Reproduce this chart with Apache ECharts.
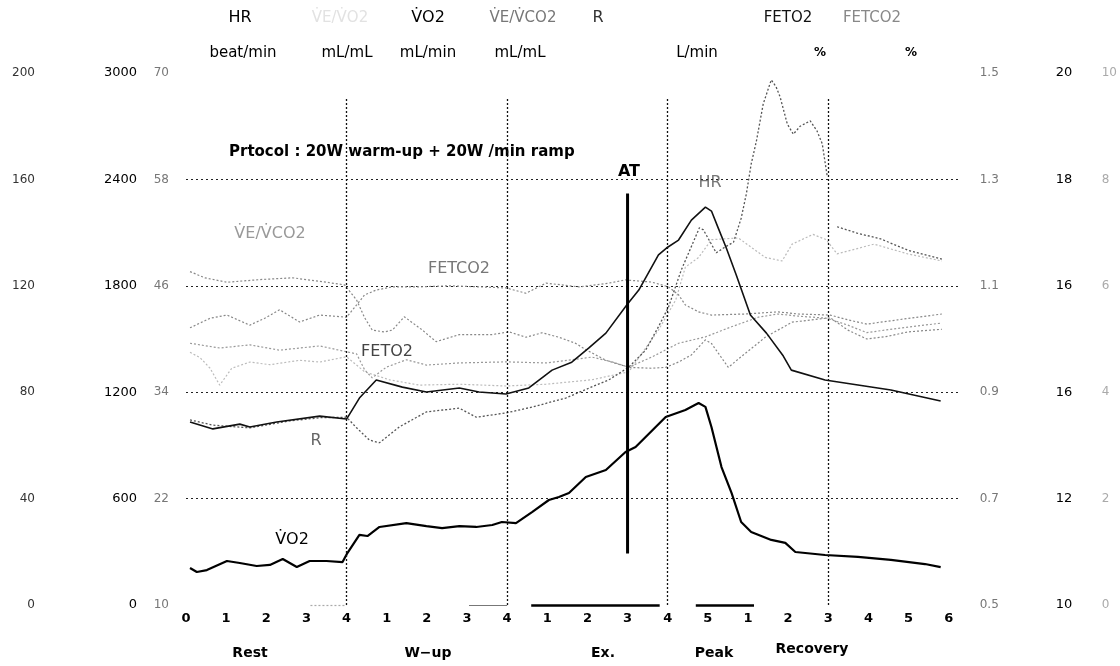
<!DOCTYPE html>
<html>
<head>
<meta charset="utf-8">
<script src="https://cdn.jsdelivr.net/npm/echarts@6.0.0/dist/echarts.min.js"></script>
<style>
  html, body { margin: 0; padding: 0; background: #fff; }
  #chart { width: 1120px; height: 666px; }
</style>
</head>
<body>
<div id="chart"></div>
<script>
// x axis: minutes, restarting in each phase
const xTickLabels = ['0','1','2','3','4','1','2','3','4','1','2','3','4','5','1','2','3','4','5','6'];
const phaseBounds = [4, 8, 12, 16];
const avgWindows = [[3.1, 4.0], [7.05, 8.0], [8.6, 11.8], [12.7, 14.15]];
const atTime = 11.0;

// tick labels of the six y scales (as printed)
const hrTicks = ['0', '40', '80', '120', '160', '200'];
const vo2Ticks = ['0', '600', '1200', '1800', '2400', '3000'];
const ratioTicks = [10, 22, 34, 46, 58, 70];
const rTicks = [0.5, 0.7, 0.9, 1.1, 1.3, 1.5];
const feto2Ticks = ['10', '12', '16', '16', '18', '20'];
const fetco2Ticks = ['0', '2', '4', '6', '8', '10'];

// series [min, value]
const vo2Data = [[0.10,209],[0.27,186],[0.52,197],[1.02,248],[1.34,237],[1.76,220],[2.09,226],[2.41,259],[2.76,214],[3.08,248],[3.50,248],[3.90,242],[4.02,293],[4.32,395],[4.52,389],[4.82,440],[5.49,462],[5.99,445],[6.38,434],[6.81,445],[7.23,440],[7.63,451],[7.87,468],[8.22,462],[8.62,524],[9.04,592],[9.29,609],[9.54,632],[9.96,722],[10.46,761],[10.95,863],[11.20,891],[11.95,1060],[12.44,1100],[12.77,1139],[12.94,1117],[13.09,1004],[13.34,778],[13.59,632],[13.83,468],[14.08,412],[14.58,367],[14.93,350],[15.18,299],[15.92,282],[16.74,271],[17.56,254],[18.41,231],[18.80,214]];

const hrData = [[0.10,68.8],[0.67,66.2],[1.34,68.0],[1.59,66.9],[2.26,68.8],[3.33,71.0],[4.00,69.9],[4.32,77.8],[4.74,84.6],[5.39,81.9],[5.99,80.1],[6.81,81.6],[7.30,80.1],[7.97,79.3],[8.54,81.6],[9.12,88.3],[9.61,91.3],[10.03,96.6],[10.46,102.2],[10.98,112.8],[11.28,118.4],[11.77,131.6],[11.97,134.2],[12.27,137.2],[12.59,144.7],[12.94,149.6],[13.09,148.1],[13.26,141.7],[13.46,134.2],[13.71,124.0],[14.06,109.0],[14.46,102.2],[14.88,93.6],[15.08,88.3],[15.92,84.6],[16.74,82.7],[17.56,80.8],[18.80,76.7]];

const veVco2Data = [[0.10,47.6],[0.47,46.9],[1.02,46.4],[1.84,46.7],[2.66,46.9],[3.50,46.4],[3.95,46.1],[4.25,44.4],[4.45,42.4],[4.64,41.0],[4.94,40.8],[5.14,41.0],[5.44,42.5],[5.89,41.0],[6.23,39.7],[6.81,40.5],[7.63,40.5],[8.05,40.8],[8.47,40.2],[8.87,40.7],[9.29,40.2],[9.71,39.5],[9.96,38.8],[10.46,37.6],[11.03,36.8],[11.60,36.7],[11.95,36.8],[12.27,37.4],[12.59,38.2],[12.94,39.9],[13.09,39.5],[13.51,36.8],[13.83,38.0],[14.43,40.2],[15.10,41.9],[16.05,42.4],[16.49,41.0],[16.96,40.0],[17.48,40.3],[17.98,40.8],[18.83,41.1]];

const veVo2Data = [[0.10,38.5],[0.35,37.9],[0.60,36.7],[0.84,34.8],[1.14,36.7],[1.59,37.4],[2.09,37.1],[2.83,37.6],[3.33,37.4],[4.00,38.0],[4.45,36.3],[5.07,35.4],[5.81,34.8],[6.81,34.9],[7.97,34.7],[8.97,34.9],[10.11,35.4],[11.03,36.3],[11.77,41.0],[12.20,44.4],[12.44,48.1],[12.77,49.2],[13.09,51.2],[13.76,51.4],[14.43,49.2],[14.85,48.8],[15.10,50.7],[15.62,51.8],[15.95,51.2],[16.22,49.6],[17.14,50.7],[17.98,49.6],[18.83,48.8]];

const rData = [[0.10,0.848],[0.67,0.838],[1.59,0.833],[2.58,0.846],[3.33,0.852],[4.00,0.853],[4.25,0.833],[4.57,0.810],[4.82,0.805],[5.32,0.835],[5.99,0.863],[6.81,0.870],[7.23,0.853],[7.97,0.861],[8.62,0.872],[9.46,0.889],[10.11,0.910],[10.53,0.923],[11.03,0.947],[11.45,0.979],[11.77,1.023],[12.02,1.060],[12.34,1.130],[12.79,1.209],[12.89,1.205],[13.21,1.162],[13.39,1.171],[13.64,1.182],[13.83,1.227],[13.96,1.273],[14.08,1.329],[14.21,1.372],[14.38,1.442],[14.58,1.487],[14.70,1.474],[14.80,1.455],[14.98,1.404],[15.13,1.385],[15.30,1.400],[15.55,1.410],[15.72,1.391],[15.85,1.367],[15.97,1.308],[16.10,'-'],[16.22,1.211],[16.72,1.199],[17.31,1.188],[17.98,1.167],[18.83,1.150]];

const feto2Data = [[0.10,14.92],[0.84,14.83],[1.59,14.89],[2.33,14.79],[3.33,14.87],[4.00,14.76],[4.25,14.72],[4.45,14.42],[4.64,14.27],[4.99,14.47],[5.49,14.61],[5.99,14.51],[6.81,14.55],[7.97,14.57],[8.97,14.55],[9.61,14.61],[10.11,14.66],[10.61,14.57],[11.03,14.47],[11.60,14.66],[12.27,14.92],[12.94,15.04],[13.59,15.23],[14.26,15.41],[14.75,15.47],[15.25,15.43],[15.97,15.39],[16.49,15.26],[16.96,15.12],[17.73,15.20],[18.83,15.30]];

const fetco2Data = [[0.10,5.21],[0.60,5.39],[1.02,5.45],[1.59,5.26],[1.96,5.39],[2.33,5.55],[2.83,5.32],[3.33,5.45],[4.00,5.41],[4.25,5.64],[4.45,5.83],[4.74,5.92],[5.14,5.98],[5.81,5.98],[6.56,6.00],[7.30,5.98],[7.97,5.96],[8.47,5.86],[8.97,6.05],[9.79,5.98],[10.53,6.05],[10.95,6.11],[11.28,6.09],[11.60,6.07],[12.02,5.98],[12.27,5.83],[12.44,5.64],[12.77,5.51],[13.09,5.45],[13.93,5.47],[14.75,5.51],[15.25,5.47],[16.05,5.45],[16.49,5.36],[16.96,5.28],[17.73,5.36],[18.83,5.47]];

const chart = echarts.init(document.getElementById('chart'), null, { renderer: 'canvas' });
const FONT = '"DejaVu Sans", Verdana, sans-serif';

function yAx(opt) {
  return Object.assign({
    type: 'value',
    axisLine: { show: false },
    axisTick: { show: false },
    splitLine: { show: false }
  }, opt);
}

const dotLine = { color: '#111', width: 1.3, type: [2, 2] };
const markData = [];
phaseBounds.forEach(t => {
  markData.push([{ coord: [t, 0], lineStyle: dotLine }, { coord: [t, 2860] }]);
});
const winStyles = [
  { color: '#aaa', width: 1.2, type: [2, 2] },
  { color: '#777', width: 1.2, type: 'solid' },
  { color: '#000', width: 2.5, type: 'solid' },
  { color: '#000', width: 2.5, type: 'solid' }
];
avgWindows.forEach((w, i) => {
  markData.push([{ coord: [w[0], 0], lineStyle: winStyles[i] }, { coord: [w[1], 0] }]);
});

function txt(x, y, s, o) {
  return {
    type: 'text', x: x, y: y, silent: true,
    style: Object.assign({ text: s, font: '15px ' + FONT, fill: '#000', align: 'center', verticalAlign: 'middle' }, o || {})
  };
}

const option = {
  backgroundColor: '#fff',
  animation: false,
  grid: { left: 186, top: 73, width: 777, height: 532 },
  xAxis: {
    type: 'value', min: 0, max: 19.3, interval: 1,
    axisLine: { show: false }, axisTick: { show: false }, splitLine: { show: false },
    axisLabel: {
      margin: 7, fontSize: 13, fontWeight: 'bold', color: '#000', fontFamily: FONT,
      showMaxLabel: false,
      formatter: v => (Number.isInteger(v) && xTickLabels[v] !== undefined) ? xTickLabels[v] : ''
    }
  },
  yAxis: [
    yAx({ min: 0, max: 200, interval: 40, position: 'left',
      splitLine: { show: true, showMinLine: false, showMaxLine: false, lineStyle: { color: '#222', width: 1, type: [2, 3] } },
      axisLabel: { margin: 151, fontSize: 12, color: '#333', fontFamily: FONT,
        formatter: (v) => hrTicks[Math.round(v / 40)] } }),
    yAx({ min: 0, max: 3000, interval: 600, position: 'left',
      axisLabel: { margin: 49, fontSize: 13, color: '#000', fontFamily: FONT,
        formatter: (v) => vo2Ticks[Math.round(v / 600)] } }),
    yAx({ min: 10, max: 70, position: 'left',
      axisLabel: { margin: 17, fontSize: 12, color: '#777', fontFamily: FONT, customValues: ratioTicks } }),
    yAx({ min: 0.5, max: 1.5, position: 'right',
      axisLabel: { margin: 19, fontSize: 12, color: '#777', fontFamily: FONT, customValues: rTicks,
        formatter: (v) => v.toFixed(1) } }),
    yAx({ min: 10, max: 20, interval: 2, position: 'right', offset: 80,
      axisLabel: { margin: 15, fontSize: 13, color: '#000', fontFamily: FONT,
        formatter: (v) => feto2Ticks[Math.round((v - 10) / 2)] } }),
    yAx({ min: 0, max: 10, interval: 2, position: 'right', offset: 126,
      axisLabel: { margin: 15, fontSize: 12, color: '#aaa', fontFamily: FONT,
        formatter: (v) => fetco2Ticks[Math.round(v / 2)] } })
  ],
  series: [
    { name: 'VE/VO2', type: 'line', yAxisIndex: 2, data: veVo2Data, symbol: 'none',
      lineStyle: { color: '#bbb', width: 1.2, type: [2, 2] } },
    { name: 'FETCO2', type: 'line', yAxisIndex: 5, data: fetco2Data, symbol: 'none',
      lineStyle: { color: '#888', width: 1.2, type: [2, 2] } },
    { name: 'FETO2', type: 'line', yAxisIndex: 4, data: feto2Data, symbol: 'none',
      lineStyle: { color: '#999', width: 1.2, type: [2, 2] } },
    { name: 'VE/VCO2', type: 'line', yAxisIndex: 2, data: veVco2Data, symbol: 'none',
      lineStyle: { color: '#888', width: 1.2, type: [2, 2] } },
    { name: 'R', type: 'line', yAxisIndex: 3, data: rData, symbol: 'none', connectNulls: false,
      lineStyle: { color: '#555', width: 1.3, type: [2, 2] } },
    { name: 'HR', type: 'line', yAxisIndex: 0, data: hrData, symbol: 'none',
      lineStyle: { color: '#111', width: 1.6 } },
    { name: 'VO2', type: 'line', yAxisIndex: 1, data: vo2Data, symbol: 'none',
      lineStyle: { color: '#000', width: 2.2 },
      markLine: { symbol: 'none', silent: true, label: { show: false }, data: markData } },
    { name: 'AT', type: 'line', yAxisIndex: 1, data: [[atTime, 290], [atTime, 2320]], symbol: 'none',
      lineStyle: { color: '#000', width: 3 } }
  ],
  graphic: [
    // header: names
    txt(240, 18, 'HR', { font: '16px ' + FONT }),
    txt(340, 18, 'V\u0307E/V\u0307O2', { fill: '#e2e2e2' }),
    txt(428, 18, 'V\u0307O2', { font: '16px ' + FONT }),
    txt(523, 18, 'V\u0307E/V\u0307CO2', { fill: '#777' }),
    txt(598, 18, 'R', { fill: '#333', font: '16px ' + FONT }),
    txt(788, 18, 'FETO2', { fill: '#111' }),
    txt(872, 18, 'FETCO2', { fill: '#888' }),
    // header: units
    txt(243, 53, 'beat/min', { font: '15px ' + FONT }),
    txt(347, 53, 'mL/mL', { font: '15px ' + FONT }),
    txt(428, 53, 'mL/min', { font: '15px ' + FONT }),
    txt(520, 53, 'mL/mL', { font: '15px ' + FONT }),
    txt(697, 53, 'L/min', { font: '15px ' + FONT }),
    txt(820, 53, '%', { font: 'bold 12px ' + FONT }),
    txt(911, 53, '%', { font: 'bold 12px ' + FONT }),
    // annotations in the plot
    txt(229, 152, 'Prtocol : 20W warm-up + 20W /min ramp', { font: 'bold 15px ' + FONT, align: 'left' }),
    txt(270, 234, 'V\u0307E/V\u0307CO2', { fill: '#999', font: '16px ' + FONT }),
    txt(459, 269, 'FETCO2', { fill: '#777', font: '16px ' + FONT }),
    txt(387, 352, 'FETO2', { fill: '#444', font: '16px ' + FONT }),
    txt(316, 441, 'R', { fill: '#666', font: '16px ' + FONT }),
    txt(710, 183, 'HR', { fill: '#777', font: '16px ' + FONT }),
    txt(292, 540, 'V\u0307O2', { fill: '#000', font: '16px ' + FONT }),
    txt(629, 172, 'AT', { font: 'bold 16px ' + FONT }),
    // phase names
    txt(250, 653, 'Rest', { font: 'bold 14px ' + FONT }),
    txt(428, 653, 'W\u2212up', { font: 'bold 14px ' + FONT }),
    txt(603, 653, 'Ex.', { font: 'bold 14px ' + FONT }),
    txt(714, 653, 'Peak', { font: 'bold 14px ' + FONT }),
    txt(812, 649, 'Recovery', { font: 'bold 14px ' + FONT })
  ]
};

chart.setOption(option);
</script>
</body>
</html>
